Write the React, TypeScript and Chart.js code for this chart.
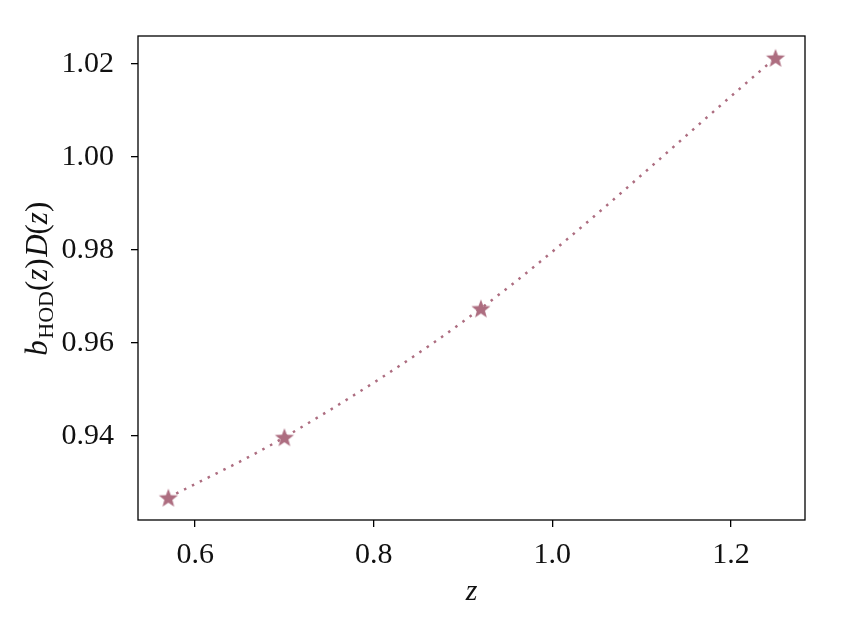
import React, { useEffect, useRef } from "react";
import { Chart, registerables } from "chart.js";

Chart.register(...registerables);

const zValues = [0.57, 0.7, 0.92, 1.25];
const biasGrowth = [0.9267, 0.9397, 0.9674, 1.0213];
const xTicks = [0.6, 0.8, 1.0, 1.2];
const yTicks = [0.94, 0.96, 0.98, 1.0, 1.02];

const COLOR = "#AD6D80";
const FONT = "'Liberation Serif', 'DejaVu Serif', serif";

function makeStar(): HTMLCanvasElement {
  const s = 24;
  const c = document.createElement("canvas");
  c.width = s;
  c.height = s;
  const ctx = c.getContext("2d")!;
  const cx = s / 2, cy = s / 2 + 0.9;
  const R = 10, r = 4.2;
  ctx.beginPath();
  for (let i = 0; i < 10; i++) {
    const ang = -Math.PI / 2 + (i * Math.PI) / 5;
    const rad = i % 2 === 0 ? R : r;
    const x = cx + rad * Math.cos(ang);
    const y = cy + rad * Math.sin(ang);
    if (i === 0) ctx.moveTo(x, y); else ctx.lineTo(x, y);
  }
  ctx.closePath();
  ctx.fillStyle = COLOR;
  ctx.fill();
  return c;
}

const framePlugin = {
  id: "frameTitles",
  afterDraw(chart: any) {
    const { ctx, chartArea } = chart;
    const { left, right, top, bottom } = chartArea;
    ctx.save();
    ctx.strokeStyle = "#000";
    ctx.lineWidth = 1.3;
    ctx.strokeRect(left, top, right - left, bottom - top);

    // x title
    ctx.fillStyle = "#111";
    ctx.font = `italic 30px ${FONT}`;
    ctx.textAlign = "center";
    ctx.textBaseline = "alphabetic";
    ctx.fillText("z", (left + right) / 2, 600);

    // y title: b_HOD(z)D(z)
    const parts: { t: string; f: string; dy: number }[] = [
      { t: "b", f: `italic 31px ${FONT}`, dy: 0 },
      { t: "HOD", f: `22px ${FONT}`, dy: 6 },
      { t: "(", f: `31px ${FONT}`, dy: 0 },
      { t: "z", f: `italic 31px ${FONT}`, dy: 0 },
      { t: ")", f: `31px ${FONT}`, dy: 0 },
      { t: "D", f: `italic 31px ${FONT}`, dy: 0 },
      { t: "(", f: `31px ${FONT}`, dy: 0 },
      { t: "z", f: `italic 31px ${FONT}`, dy: 0 },
      { t: ")", f: `31px ${FONT}`, dy: 0 },
    ];
    let total = 0;
    const widths = parts.map((p) => {
      ctx.font = p.f;
      const w = ctx.measureText(p.t).width + (p.t === "b" || p.t === ")" ? 1.5 : 0);
      total += w;
      return w;
    });
    ctx.translate(47, (top + bottom) / 2);
    ctx.rotate(-Math.PI / 2);
    ctx.textAlign = "left";
    let x = -total / 2;
    parts.forEach((p, i) => {
      ctx.font = p.f;
      ctx.fillText(p.t, x, p.dy);
      x += widths[i];
    });
    ctx.restore();
  },
};

export default function App() {
  const ref = useRef<HTMLCanvasElement | null>(null);
  useEffect(() => {
    document.body.style.margin = "0";
    const star = makeStar();
    const chart = new Chart(ref.current!, {
      type: "line",
      data: {
        datasets: [
          {
            data: zValues.map((z, i) => ({ x: z, y: biasGrowth[i] })),
            borderColor: COLOR,
            borderWidth: 2.5,
            borderDash: [2.5, 6.3],
            borderCapStyle: "butt",
            cubicInterpolationMode: "monotone",
            pointStyle: star as any,
            pointRadius: 10,
            fill: false,
          },
        ],
      },
      options: {
        animation: false,
        responsive: false,
        maintainAspectRatio: false,
        layout: { padding: { left: 0, right: 37, top: 36, bottom: 0 } },
        plugins: { legend: { display: false }, tooltip: { enabled: false } },
        scales: {
          x: {
            type: "linear",
            min: 0.536,
            max: 1.283,
            afterBuildTicks: (s: any) => {
              s.ticks = xTicks.map((v) => ({ value: v }));
            },
            afterFit: (s: any) => {
              s.height = 112;
            },
            grid: { display: true, drawOnChartArea: false, drawTicks: true, tickLength: 7, color: "#000", lineWidth: 1.3 },
            border: { display: false },
            ticks: {
              color: "#111",
              font: { family: FONT, size: 30 },
              padding: 10,
              maxRotation: 0,
              callback: (v: any) => Number(v).toFixed(1),
            },
          },
          y: {
            type: "linear",
            min: 0.9219,
            max: 1.026,
            afterBuildTicks: (s: any) => {
              s.ticks = yTicks.map((v) => ({ value: v }));
            },
            afterFit: (s: any) => {
              s.width = 138;
            },
            grid: { display: true, drawOnChartArea: false, drawTicks: true, tickLength: 7, color: "#000", lineWidth: 1.3 },
            border: { display: false },
            ticks: {
              color: "#111",
              font: { family: FONT, size: 30 },
              padding: 17,
              callback: (v: any) => Number(v).toFixed(2),
            },
          },
        },
      },
      plugins: [framePlugin],
    });
    return () => chart.destroy();
  }, []);
  return (
    <div style={{ width: 842, height: 632 }}>
      <canvas ref={ref} width={842} height={632} style={{ display: "block" }} />
    </div>
  );
}
